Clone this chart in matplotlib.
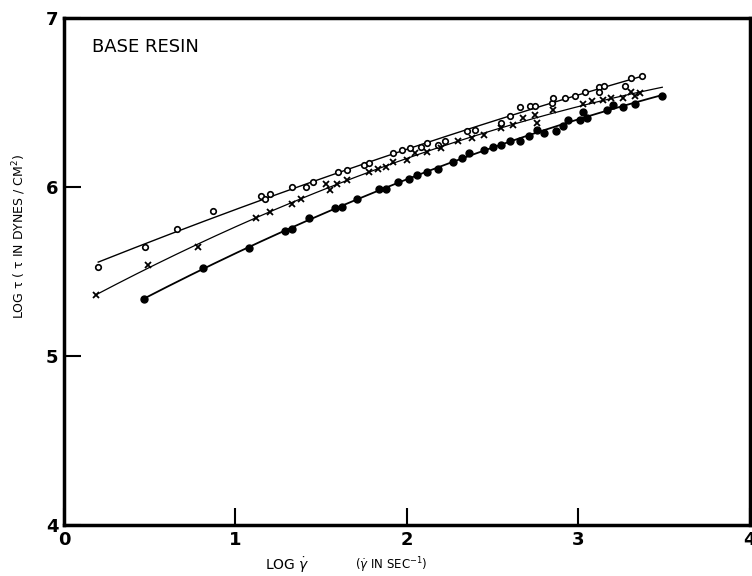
import numpy as np
import matplotlib.pyplot as plt

# base resin flow curves: log shear stress vs log shear rate
x_open = [0.20, 0.47, 0.66, 0.87, 1.15, 1.17, 1.20, 1.33, 1.41, 1.45, 1.60, 1.65,
          1.75, 1.78, 1.92, 1.97, 2.02, 2.08, 2.12, 2.18, 2.22, 2.35, 2.40, 2.55,
          2.60, 2.66, 2.72, 2.75, 2.845, 2.855, 2.92, 2.98, 3.04, 3.12, 3.12,
          3.15, 3.27, 3.31, 3.37]
y_open = [5.53, 5.645, 5.75, 5.86, 5.95, 5.93, 5.96, 6.00, 6.00, 6.03, 6.09, 6.10,
          6.13, 6.14, 6.20, 6.22, 6.23, 6.24, 6.26, 6.25, 6.27, 6.33, 6.34, 6.38,
          6.42, 6.475, 6.48, 6.48, 6.50, 6.53, 6.53, 6.54, 6.56, 6.59, 6.56,
          6.60, 6.60, 6.645, 6.66]

x_cross = [0.19, 0.49, 0.78, 1.12, 1.20, 1.33, 1.38, 1.53, 1.55, 1.59, 1.65, 1.78,
           1.83, 1.88, 1.92, 2.00, 2.05, 2.12, 2.20, 2.30, 2.38, 2.45, 2.55, 2.62,
           2.68, 2.745, 2.76, 2.855, 3.03, 3.08, 3.145, 3.19, 3.26, 3.31, 3.33, 3.36]
y_cross = [5.36, 5.54, 5.645, 5.82, 5.85, 5.90, 5.93, 6.02, 5.98, 6.02, 6.04, 6.09,
           6.11, 6.12, 6.15, 6.16, 6.20, 6.21, 6.23, 6.27, 6.29, 6.31, 6.35, 6.37,
           6.41, 6.425, 6.38, 6.455, 6.49, 6.51, 6.515, 6.53, 6.53, 6.56, 6.54, 6.555]

x_dot = [0.465, 0.81, 1.08, 1.29, 1.33, 1.43, 1.58, 1.62, 1.71, 1.84, 1.88, 1.95,
         2.01, 2.06, 2.12, 2.18, 2.27, 2.32, 2.36, 2.45, 2.50, 2.55, 2.60, 2.66,
         2.71, 2.76, 2.80, 2.87, 2.91, 2.94, 3.01, 3.03, 3.05, 3.165, 3.20, 3.26,
         3.33, 3.49]
y_dot = [5.34, 5.52, 5.64, 5.74, 5.75, 5.82, 5.875, 5.88, 5.93, 5.99, 5.99, 6.03,
         6.05, 6.07, 6.09, 6.11, 6.15, 6.17, 6.20, 6.22, 6.24, 6.25, 6.27, 6.275,
         6.30, 6.34, 6.32, 6.335, 6.36, 6.40, 6.395, 6.445, 6.41, 6.455, 6.485, 6.475,
         6.49, 6.54]

# x extent of each fitted curve
fit_open = (0.20, 3.37)
fit_cross = (0.19, 3.49)
fit_dot = (0.465, 3.49)

fig = plt.figure(figsize=(7.52, 5.76), dpi=100)
ax = fig.add_axes([0.085, 0.0885, 0.912, 0.880])

def fitline(xs, ys, span, lw):
    c = np.polyfit(xs, ys, 2)
    xx = np.linspace(span[0], span[1], 200)
    ax.plot(xx, np.polyval(c, xx), color='black', lw=lw)

fitline(x_open, y_open, fit_open, 1.0)
fitline(x_cross, y_cross, fit_cross, 0.9)
fitline(x_dot, y_dot, fit_dot, 1.3)

ax.plot(x_open, y_open, 'o', ms=4, mfc='white', mec='black', mew=1.2)
ax.plot(x_cross, y_cross, 'x', ms=5, color='black', mew=1.3)
ax.plot(x_dot, y_dot, 'o', ms=5, color='black')

ax.set_xlim(0, 4)
ax.set_ylim(4, 7)
ax.set_xticks([0, 1, 2, 3, 4])
ax.set_yticks([4, 5, 6, 7])
ax.tick_params(direction='in', length=12, width=1.5, labelsize=13, pad=4)
for lab in ax.get_xticklabels() + ax.get_yticklabels():
    lab.set_fontweight('bold')
for s in ax.spines.values():
    s.set_linewidth(2.5)

ax.text(0.041, 0.943, 'BASE RESIN', transform=ax.transAxes, fontsize=13,
        va='center', ha='left')
ax.set_ylabel('LOG τ ( τ IN DYNES / CM$^2$)', fontsize=9, labelpad=14)
ax.yaxis.set_label_coords(-0.052, 0.57)
fig.text(0.352, 0.018, 'LOG $\\dot{\\gamma}$', fontsize=10, va='center')
fig.text(0.472, 0.018, '($\\dot{\\gamma}$ IN SEC$^{-1}$)', fontsize=8.5, va='center')

plt.savefig('out.png', dpi=100)
